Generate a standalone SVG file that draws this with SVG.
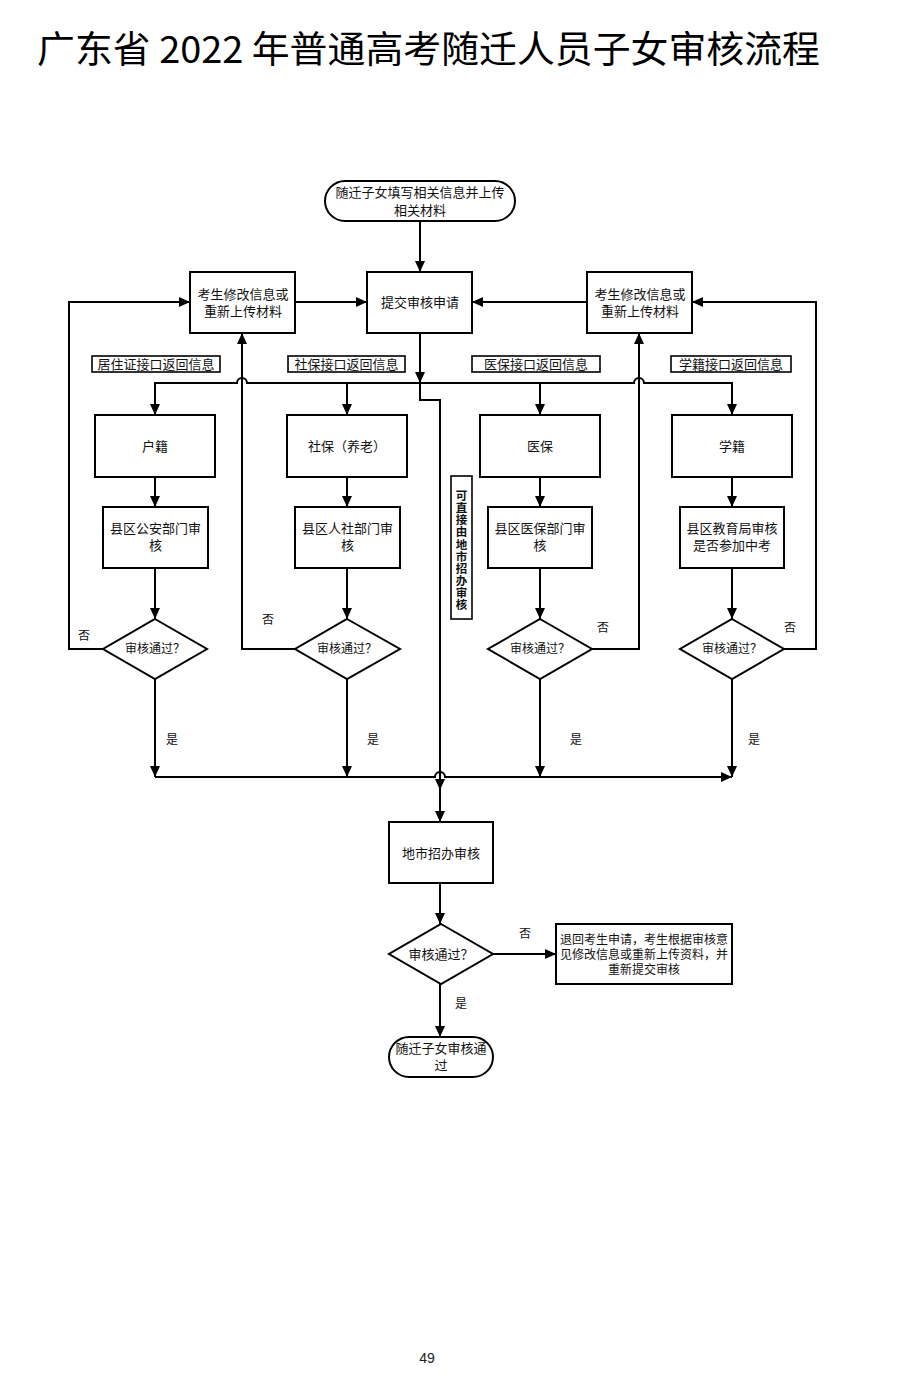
<svg xmlns="http://www.w3.org/2000/svg" width="900" height="1391" viewBox="0 0 900 1391">
<style>
.bx{fill:#fff;stroke:#000;stroke-width:2}
.lb{fill:#fff;stroke:#000;stroke-width:1.6}
.t{font-family:"Noto Sans CJK SC","Noto Sans",sans-serif;font-size:13px;fill:#111;text-anchor:middle}
.s{font-size:12px}
.ln{fill:none;stroke:#000;stroke-width:2}
.ttl{font-family:"Noto Sans CJK SC","Noto Sans",sans-serif;font-size:37px;fill:#000}
</style>
<defs>
<marker id="ar" markerUnits="userSpaceOnUse" markerWidth="12" markerHeight="10" refX="11" refY="5" orient="auto">
<path d="M0,0 L11,5 L0,10 z" fill="#000"/>
</marker>
</defs>
<rect width="900" height="1391" fill="#fff"/>
<text class="ttl" x="37" y="63" textLength="783" lengthAdjust="spacingAndGlyphs">广东省 2022 年普通高考随迁人员子女审核流程</text>

<g id="connectors">
<path class="ln" d="M420,221 V272" marker-end="url(#ar)"/>
<path class="ln" d="M295,302 H367" marker-end="url(#ar)"/>
<path class="ln" d="M587,302 H472" marker-end="url(#ar)"/>
<path class="ln" d="M420,333 V383" marker-end="url(#ar)"/>
<path class="ln" d="M155,415 V383 H237 A5,5 0 0 1 247,383 H634 A5,5 0 0 1 644,383 H732 V415" marker-end="url(#ar)"/>
<path class="ln" d="M155,383 V415" marker-end="url(#ar)"/>
<path class="ln" d="M347,383 V415" marker-end="url(#ar)"/>
<path class="ln" d="M540,383 V415" marker-end="url(#ar)"/>
<path class="ln" d="M420,383 V400 H440 V790" marker-end="url(#ar)"/>
<path class="ln" d="M440,790 V822" marker-end="url(#ar)"/>
<path class="ln" d="M155,477 V507" marker-end="url(#ar)"/>
<path class="ln" d="M347,477 V507" marker-end="url(#ar)"/>
<path class="ln" d="M540,477 V507" marker-end="url(#ar)"/>
<path class="ln" d="M732,477 V507" marker-end="url(#ar)"/>
<path class="ln" d="M155,568 V619" marker-end="url(#ar)"/>
<path class="ln" d="M347,568 V619" marker-end="url(#ar)"/>
<path class="ln" d="M540,568 V619" marker-end="url(#ar)"/>
<path class="ln" d="M732,568 V619" marker-end="url(#ar)"/>
<path class="ln" d="M103,649 H69 V302 H190" marker-end="url(#ar)"/>
<path class="ln" d="M295,649 H242 V333" marker-end="url(#ar)"/>
<path class="ln" d="M592,649 H639 V333" marker-end="url(#ar)"/>
<path class="ln" d="M784,649 H816 V302 H692" marker-end="url(#ar)"/>
<path class="ln" d="M155,679 V777" marker-end="url(#ar)"/>
<path class="ln" d="M347,679 V777" marker-end="url(#ar)"/>
<path class="ln" d="M540,679 V777" marker-end="url(#ar)"/>
<path class="ln" d="M732,679 V777" marker-end="url(#ar)"/>
<path class="ln" d="M155,777 H435 A5,5 0 0 1 445,777 H540"/>
<path class="ln" d="M540,777 H732" stroke-width="3" marker-end="url(#ar)"/>
<path class="ln" d="M440,883 V924" marker-end="url(#ar)"/>
<path class="ln" d="M493,954 H556" marker-end="url(#ar)"/>
<path class="ln" d="M440,984 V1037" marker-end="url(#ar)"/>
<text class="t s" x="84" y="640">否</text>
<text class="t s" x="268" y="624">否</text>
<text class="t s" x="603" y="632">否</text>
<text class="t s" x="790" y="632">否</text>
<text class="t s" x="172" y="744">是</text>
<text class="t s" x="373" y="744">是</text>
<text class="t s" x="576" y="744">是</text>
<text class="t s" x="754" y="744">是</text>
<text class="t s" x="525" y="938">否</text>
<text class="t s" x="461" y="1008">是</text>
</g>

<g id="start">
<rect class="bx" x="325" y="181" width="190" height="40" rx="20"/>
<text class="t" x="420" y="197">随迁子女填写相关信息并上传</text>
<text class="t" x="420" y="215">相关材料</text>
</g>
<g id="submit">
<rect class="bx" x="367" y="272" width="105" height="61"/>
<text class="t" x="420" y="307">提交审核申请</text>
</g>
<g id="modify-left">
<rect class="bx" x="190" y="272" width="105" height="61"/>
<text class="t" x="243" y="299">考生修改信息或</text>
<text class="t" x="243" y="316">重新上传材料</text>
</g>
<g id="modify-right">
<rect class="bx" x="587" y="272" width="105" height="61"/>
<text class="t" x="640" y="299">考生修改信息或</text>
<text class="t" x="640" y="316">重新上传材料</text>
</g>

<g id="label-jzz">
<rect class="lb" x="92" y="356" width="128" height="16"/>
<text class="t" x="156" y="368.5">居住证接口返回信息</text>
</g>
<g id="label-sb">
<rect class="lb" x="288" y="356" width="117" height="16"/>
<text class="t" x="346.5" y="368.5">社保接口返回信息</text>
</g>
<g id="label-yb">
<rect class="lb" x="472" y="356" width="128" height="16"/>
<text class="t" x="536" y="368.5">医保接口返回信息</text>
</g>
<g id="label-xj">
<rect class="lb" x="671" y="356" width="120" height="16"/>
<text class="t" x="731" y="368.5">学籍接口返回信息</text>
</g>

<g id="huji">
<rect class="bx" x="95" y="415" width="120" height="62"/>
<text class="t" x="155" y="451">户籍</text>
</g>
<g id="shebao">
<rect class="bx" x="287" y="415" width="120" height="62"/>
<text class="t" x="347" y="451">社保（养老）</text>
</g>
<g id="yibao">
<rect class="bx" x="480" y="415" width="120" height="62"/>
<text class="t" x="540" y="451">医保</text>
</g>
<g id="xueji">
<rect class="bx" x="672" y="415" width="120" height="62"/>
<text class="t" x="732" y="451">学籍</text>
</g>

<g id="review-police">
<rect class="bx" x="103" y="507" width="105" height="61"/>
<text class="t" x="155.5" y="533">县区公安部门审</text>
<text class="t" x="155.5" y="550">核</text>
</g>
<g id="review-hr">
<rect class="bx" x="295" y="507" width="105" height="61"/>
<text class="t" x="347.5" y="533">县区人社部门审</text>
<text class="t" x="347.5" y="550">核</text>
</g>
<g id="review-med">
<rect class="bx" x="488" y="507" width="104" height="61"/>
<text class="t" x="540" y="533">县区医保部门审</text>
<text class="t" x="540" y="550">核</text>
</g>
<g id="review-edu">
<rect class="bx" x="680" y="507" width="104" height="61"/>
<text class="t" x="732" y="533">县区教育局审核</text>
<text class="t" x="732" y="550">是否参加中考</text>
</g>

<g id="dec1">
<polygon class="bx" points="155,619 207,649 155,679 103,649"/>
<text class="t s" x="155" y="653">审核通过？</text>
</g>
<g id="dec2">
<polygon class="bx" points="347,619 400,649 347,679 295,649"/>
<text class="t s" x="347" y="653">审核通过？</text>
</g>
<g id="dec3">
<polygon class="bx" points="540,619 592,649 540,679 488,649"/>
<text class="t s" x="540" y="653">审核通过？</text>
</g>
<g id="dec4">
<polygon class="bx" points="732,619 784,649 732,679 680,649"/>
<text class="t s" x="732" y="653">审核通过？</text>
</g>

<g id="direct-label">
<rect class="lb" x="451" y="476" width="21" height="143"/>
<text x="461.5" y="490" style="font-family:'Noto Sans CJK SC',sans-serif;font-size:11.5px;font-weight:bold;writing-mode:vertical-rl;letter-spacing:0.6px;fill:#111">可直接由地市招办审核</text>
</g>

<g id="city-review">
<rect class="bx" x="389" y="822" width="104" height="61"/>
<text class="t" x="441" y="858">地市招办审核</text>
</g>
<g id="dec-city">
<polygon class="bx" points="441,924 493,954 441,984 389,954"/>
<text class="t" x="441" y="958.5">审核通过？</text>
</g>
<g id="return">
<rect class="bx" x="556" y="924" width="176" height="60"/>
<text class="t s" x="644" y="944">退回考生申请，考生根据审核意</text>
<text class="t s" x="644" y="959">见修改信息或重新上传资料，并</text>
<text class="t s" x="644" y="974">重新提交审核</text>
</g>
<g id="end">
<rect class="bx" x="389" y="1037" width="104" height="40" rx="20"/>
<text class="t" x="441" y="1053">随迁子女审核通</text>
<text class="t" x="441" y="1070">过</text>
</g>
<text x="427" y="1363" font-family="Liberation Sans,sans-serif" font-size="14" text-anchor="middle" fill="#222">49</text>
</svg>
